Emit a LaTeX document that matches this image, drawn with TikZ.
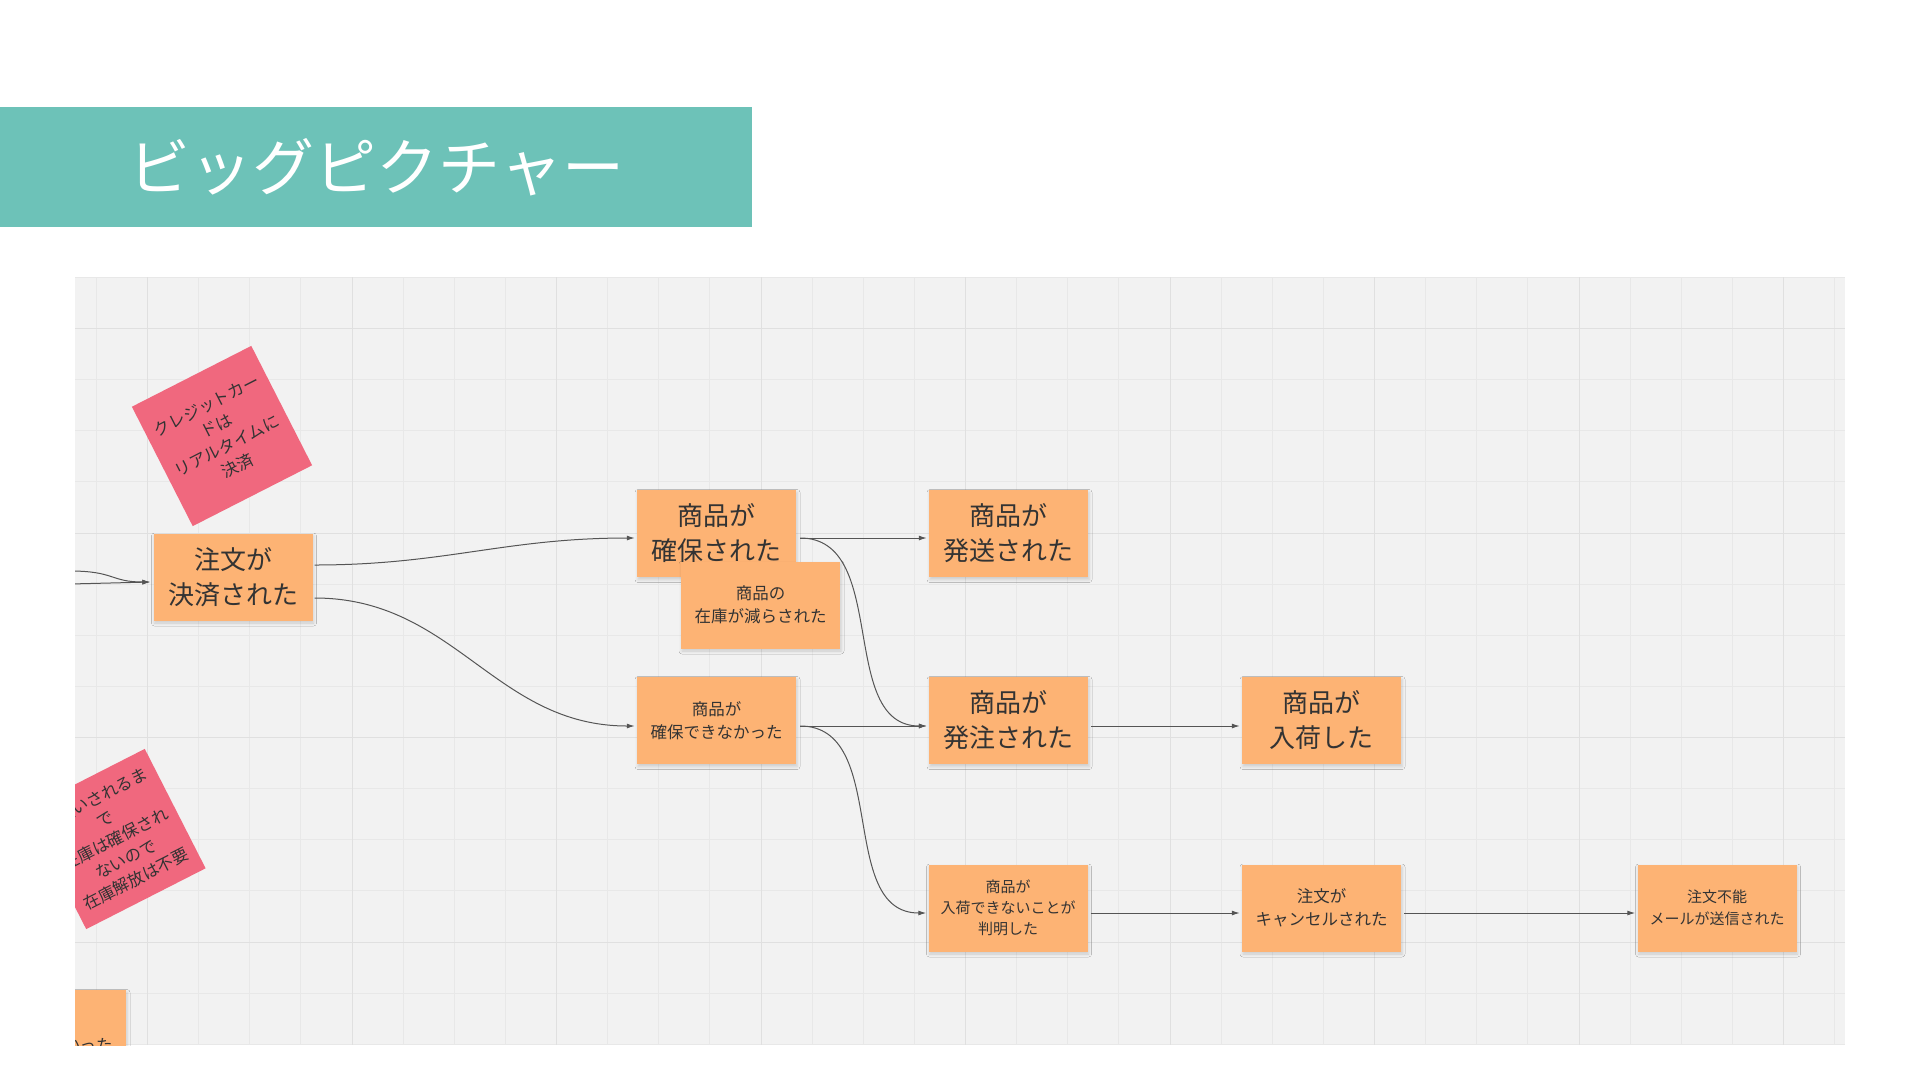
\documentclass[tikz,border=0pt]{standalone}
\usepackage{fontspec}
\setmainfont{Noto Sans CJK JP}
\usetikzlibrary{calc,arrows.meta,shadows.blur}
\definecolor{bandteal}{HTML}{6DC2B8}
\definecolor{canvasbg}{HTML}{F2F2F2}
\definecolor{minorc}{HTML}{E8E8E8}
\definecolor{majorc}{HTML}{E0E0E0}
\definecolor{stickyor}{HTML}{FDB374}
\definecolor{stickypk}{HTML}{F0687E}
\definecolor{textc}{HTML}{333333}
\definecolor{linec}{HTML}{555555}
\tikzset{
  stickybox/.style={fill=stickyor, minimum width=159, minimum height=87, align=center,
    text=textc, inner sep=0,
    blur shadow={shadow xshift=1pt, shadow yshift=-2.5pt, shadow blur radius=3pt, shadow opacity=16}},
  bigtxt/.style={font=\fontsize{26}{35}\selectfont},
  smalltxt/.style={font=\fontsize{16.5}{23}\selectfont},
  pinknote/.style={fill=stickypk, minimum width=134, minimum height=134, align=center,
    text=textc, inner sep=0, rotate=27, font=\fontsize{16.5}{22.5}\selectfont},
  conn/.style={draw=linec, line width=1pt, -{Latex[length=8pt,width=5pt]}},
  minorline/.style={draw=minorc, line width=1pt},
  majorline/.style={draw=majorc, line width=1.2pt},
}
\begin{document}
\begin{tikzpicture}[x=1pt,y=-1pt]
\useasboundingbox (0,0) rectangle (1920,1080);
\fill[white] (0,0) rectangle (1920,1080);
% title band
\fill[bandteal] (0,106.5) rectangle (752,226.5);
\node[text=white, font=\fontsize{62}{62}\selectfont, inner sep=0] (title) at (376.5,167) {ビッグピクチャー};
% canvas
\fill[canvasbg] (75,277) rectangle (1845,1045);
\begin{scope}
\clip (75,277) rectangle (1845,1045);
\foreach \k in {-2,...,34} {\pgfmathsetmacro{\gx}{round(147+\k*51.125)+0.5}\draw[minorline] (\gx,277) -- (\gx,1045);}
\foreach \k in {-1,...,14} {\pgfmathsetmacro{\gy}{round(328+\k*51.125)+0.5}\draw[minorline] (75,\gy) -- (1845,\gy);}
\foreach \k in {-1,...,8} {\pgfmathsetmacro{\gx}{round(147+\k*204.5)+0.5}\draw[majorline] (\gx,277) -- (\gx,1045);}
\foreach \k in {0,...,3} {\pgfmathsetmacro{\gy}{round(328+\k*204.5)+0.5}\draw[majorline] (75,\gy) -- (1845,\gy);}

% pink notes
\node[pinknote] (pink1) at (222,436) {クレジットカー\\ドは\\リアルタイムに\\決済};
\node[pinknote] (pink2) at (115.5,839) {支払いされるま\\で\\在庫は確保され\\ないので\\在庫解放は不要};

% orange sticky notes
\node[stickybox, bigtxt] (kessai) at (233,577) {注文が\\決済された};
\node[stickybox, bigtxt] (kakuho) at (716.5,533.5) {商品が\\確保された};
\node[stickybox, smalltxt] (genso) at (760.5,605) {商品の\\在庫が減らされた};
\node[stickybox, bigtxt] (hasso) at (1008.5,533.5) {商品が\\発送された};
\node[stickybox, smalltxt] (fuka) at (716.5,720.5) {商品が\\確保できなかった};
\node[stickybox, bigtxt] (hatchu) at (1008.5,720.5) {商品が\\発注された};
\node[stickybox, bigtxt] (nyuka) at (1321.5,720.5) {商品が\\入荷した};
\node[stickybox, font=\fontsize{15}{21}\selectfont] (hanmei) at (1008,908) {商品が\\入荷できないことが\\判明した};
\node[stickybox, smalltxt] (cancel) at (1321.5,908) {注文が\\キャンセルされた};
\node[stickybox, font=\fontsize{15}{22}\selectfont] (mail) at (1717,908) {注文不能\\メールが送信された};
\node[stickybox, smalltxt] (partial) at (46.5,1033.5) {商品が\\確保できなかった};

% connectors
\coordinate (in1) at (70,571);
\coordinate (in2) at (70,584);
\draw[conn] (in1) .. controls +(45,0) and +(-40,0) .. ($(kessai.west)+(-3,5)$);
\draw[conn] (in2) -- ($(kessai.west)+(-3,5)$);
\draw[conn] ($(kessai.east)+(2,-12)$) .. controls +(130,0) and +(-130,0) .. ($(kakuho.west)+(-2,4.5)$);
\draw[conn] ($(kessai.east)+(2,21)$) .. controls +(140,0) and +(-140,0) .. ($(fuka.west)+(-2,5.5)$);
\draw[conn] ($(kakuho.east)+(4,4.5)$) -- ($(hasso.west)+(-2,4.5)$);
\draw[conn] ($(kakuho.east)+(4,4.5)$) .. controls +(90,0) and +(-90,0) .. ($(hatchu.west)+(-2,5.5)$);
\draw[conn] ($(fuka.east)+(4,5.5)$) -- ($(hatchu.west)+(-2,5.5)$);
\draw[conn] ($(fuka.east)+(4,5.5)$) .. controls +(90,0) and +(-90,0) .. ($(hanmei.west)+(-2,5)$);
\draw[conn] ($(hatchu.east)+(3,5.5)$) -- ($(nyuka.west)+(-2,5.5)$);
\draw[conn] ($(hanmei.east)+(3,5)$) -- ($(cancel.west)+(-2,5)$);
\draw[conn] ($(cancel.east)+(3,5)$) -- ($(mail.west)+(-2,5)$);
\end{scope}
\end{tikzpicture}
\end{document}
